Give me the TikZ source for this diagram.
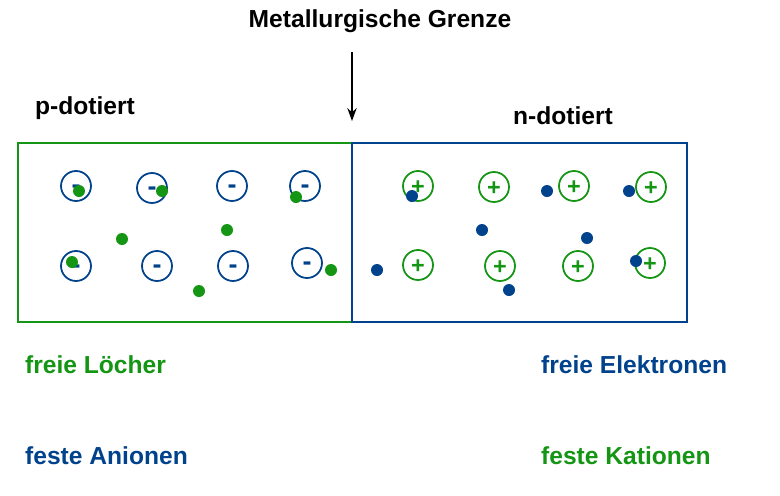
\documentclass[tikz,border=0pt]{standalone}
\usepackage{fontspec}
\setmainfont{Liberation Sans}
\usetikzlibrary{arrows.meta,positioning}
\definecolor{leaf}{RGB}{20,150,20}
\definecolor{navy}{RGB}{0,66,140}
\tikzset{
  region/.style={draw=#1,line width=2.2pt},
  ion/.style={circle,draw=#1,line width=1.5pt,minimum size=0.9cm,inner sep=0pt,
    text=#1,text depth=0pt},
  anion/.style={ion=navy,font=\fontsize{23}{23}\selectfont\bfseries,text height=12.6pt},
  kation/.style={ion=leaf,font=\fontsize{20}{20}\selectfont\bfseries,text height=14.2pt},
  carrier/.style={circle,fill=#1,minimum size=0.36cm,inner sep=0pt},
  tag/.style={anchor=west,font=\fontsize{21}{23}\selectfont\bfseries,text=#1},
  tag/.default=black,
}
\begin{document}
\begin{tikzpicture}[x=0.03cm,y=-0.03cm]
  \useasboundingbox (0,0) rectangle (780,495);
  % the two regions
  \draw[region=leaf] (18,143) rectangle (352,322);
  \draw[region=navy] (352,143) rectangle (687,322);
  % fixed anions (p side)
  \foreach \x/\y [count=\i] in {76/186,152/188,232/186,305/186,76/266,157/266,233/266,307/263}
    \node[anion] (an\i) at (\x,\y) {-};
  % free holes
  \foreach \x/\y [count=\i] in {79/191,162/191,296/197,122/239,227/230,72/262,199/291,331/270}
    \node[carrier=leaf] (h\i) at (\x,\y) {};
  % fixed cations (n side)
  \foreach \x/\y [count=\i] in {418/186,494/187,574/186,651/187,418/265,500/266,578/266,650/263}
    \node[kation] (kat\i) at (\x,\y) {+};
  % free electrons
  \foreach \x/\y [count=\i] in {412/196,547/191,629/191,482/230,587/238,377/270,509/290,636/261}
    \node[carrier=navy] (el\i) at (\x,\y) {};
  % labels
  \node[font=\fontsize{21}{23}\selectfont\bfseries] (grenze) at (380,21) {Metallurgische Grenze};
  \coordinate (pfeilA) at (352,52);
  \coordinate (pfeilB) at (352,121);
  \draw[-{Stealth[length=11pt,width=8pt]},line width=1.2pt] (pfeilA) -- (pfeilB);
  \node[tag] (ptyp) at (31,108) {p-dotiert};
  \node[tag] (ntyp) at (509,116) {n-dotiert};
  \node[tag=leaf] (loecher) at (21,365) {freie Löcher};
  \node[tag=navy] (anionen) at (21,456) {feste Anionen};
  \node[tag=navy] (elektronen) at (537,365) {freie Elektronen};
  \node[tag=leaf] (kationen) at (537,456) {feste Kationen};
\end{tikzpicture}
\end{document}
